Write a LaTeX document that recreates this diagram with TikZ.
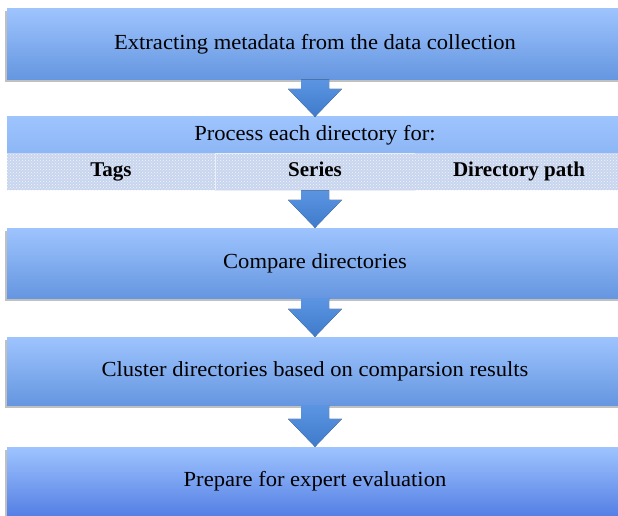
\documentclass[tikz,border=0pt]{standalone}
\usepackage{fontspec}
\setmainfont{Liberation Serif}
\newfontfamily\stepfont[FakeStretch=1.05]{Liberation Serif}
\usetikzlibrary{positioning,calc,shadows,patterns,backgrounds}
\definecolor{skyTop}{HTML}{9EC4FE}
\definecolor{skyBot}{HTML}{6596E0}
\definecolor{arrowTop}{HTML}{5B95E2}
\definecolor{arrowBot}{HTML}{3F7BCB}
\definecolor{cellGrey}{HTML}{C8D5EE}
\tikzset{
  stage/.style={rectangle, inner sep=0pt, minimum width=616pt, minimum height=71pt, top color=skyTop, bottom color=skyBot, font=\stepfont\fontsize{21.5}{24}\selectfont, text=black},
  shade/.style={drop shadow={shadow xshift=-2pt, shadow yshift=-3pt, opacity=.35, fill=black!70}},
  cell/.style={rectangle, inner sep=0pt, minimum height=37pt, text height=14pt, text depth=4pt, preaction={fill=cellGrey}, pattern=crosshatch dots, pattern color=white!75!cellGrey, font=\bfseries\fontsize{21}{24}\selectfont, text=black},
}
% block arrow between two stacked boxes
\newcommand\flowarrow[2]{%
  \fill[top color=arrowTop, bottom color=arrowBot]
    ($(#1.south)+(-14,0)$) -- ($(#1.south)+(14,0)$) -- ($(#2.north)+(14,-28)$)
    -- ($(#2.north)+(27,-28)$) -- (#2.north) -- ($(#2.north)+(-27,-28)$)
    -- ($(#2.north)+(-14,-28)$) -- cycle;}

\begin{document}
\begin{tikzpicture}[x=1pt, y=-1pt]
\useasboundingbox[fill=white] (0,0) rectangle (618,516);
\node[stage, shade] (extract) at (315,44) {Extracting metadata from the data collection};
% second stage: title band plus three cells
\node[stage, minimum height=36pt, top color=skyTop, bottom color=skyTop!70!skyBot] (process) at (315,135) {Process each directory for:};
\node[cell, minimum width=208pt] (tags) at (111,171.5) {Tags};
\node[cell, minimum width=200pt, draw=white!60!cellGrey, line width=0.6pt] (series) at (315,171.5) {Series};
\node[cell, minimum width=208pt] (dirpath) at (519,171.5) {Directory path};
\begin{scope}[on background layer]
  \fill[black!70, opacity=.35] ($(process.north west)+(-2,3)$) rectangle ($(dirpath.south east)+(-2,3)$);
\end{scope}
\node[stage, shade, minimum height=70pt] (compare) at (315,263) {Compare directories};
\node[stage, shade, minimum height=68pt] (cluster) at (315,371) {Cluster directories based on comparsion results};
\node[stage, shade, minimum height=68pt, bottom color=skyBot!85!blue] (prepare) at (315,481) {Prepare for expert evaluation};
\flowarrow{extract}{process}
\flowarrow{series}{compare}
\flowarrow{compare}{cluster}
\flowarrow{cluster}{prepare}
\end{tikzpicture}
\end{document}
